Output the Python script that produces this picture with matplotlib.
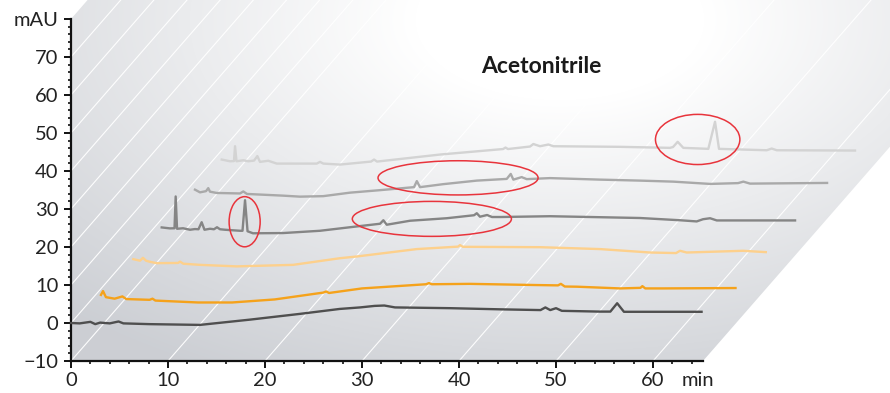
import numpy as np
import matplotlib
matplotlib.use('Agg')
import matplotlib.pyplot as plt
from matplotlib.patches import Polygon, Ellipse
from matplotlib.ticker import MultipleLocator, FixedLocator

plt.rcParams['font.family'] = ['Lato', 'DejaVu Sans']

# ---------------- data (apparent retention time [min], apparent signal [mAU]) -------------
run1_t = [0, 0.9, 2.0, 2.5, 3.0, 4.0, 4.9, 5.4, 8.1, 13.3, 18.5, 23.6, 27.7, 29.8, 31.3, 32.3,
          33.4, 39.1, 44.2, 48.4, 48.9, 49.4, 50.0, 50.6, 54.5, 55.6, 56.3, 57.0, 59.7, 65.0]
run1_mau = [0, -0.1, 0.3, -0.3, 0.1, -0.1, 0.4, -0.1, -0.3, -0.5, 0.9, 2.4, 3.7, 4.1, 4.5, 4.6,
            4.1, 3.9, 3.6, 3.4, 4.1, 3.4, 3.9, 3.2, 3.0, 3.0, 5.2, 2.95, 2.95, 2.95]

run2_t = [3.09, 3.3, 3.6, 4.5, 5.3, 5.7, 8.1, 8.4, 8.7, 13.1, 16.6, 21.0, 26.0, 26.3, 26.6,
          30.0, 36.6, 36.9, 37.2, 41.1, 47.7, 50.2, 50.5, 50.9, 52.2, 56.6, 58.7, 58.9, 59.2,
          61.0, 68.5]
run2_mau = [7.4, 8.4, 6.8, 6.4, 7.0, 6.3, 6.1, 6.4, 5.9, 5.4, 5.4, 6.2, 8.0, 8.3, 7.9,
            9.1, 10.2, 10.5, 10.2, 10.3, 10.0, 9.9, 10.3, 9.6, 9.55, 9.1, 9.25, 9.7, 9.1,
            9.1, 9.2]

run3_t = [6.42, 7.11, 7.42, 7.73, 8.14, 8.84, 11.03, 11.24, 11.58, 13.3, 17.08, 22.89, 27.73,
          29.45, 35.64, 39.9, 40.1, 40.4, 48.35, 54.54, 59.69, 62.37, 62.78, 63.47, 69.28, 71.62]
run3_mau = [16.8, 16.4, 17.15, 16.4, 16.1, 15.75, 15.8, 16.15, 15.6, 15.3, 14.9, 15.3, 17.05,
            17.5, 19.45, 20.1, 20.5, 20.05, 19.95, 19.45, 18.55, 18.4, 19.0, 18.55, 19.0, 18.65]

run4_t = [9.35, 10.2, 10.67, 10.79, 10.93, 11.55, 12.27, 12.78, 13.14, 13.47, 13.76, 14.33,
          14.74, 15.05, 15.36, 15.88, 17.42, 17.68, 17.94, 18.2, 18.76, 21.86, 25.67, 28.76,
          31.86, 32.2, 32.55, 34.95, 38.73, 41.55, 41.83, 42.16, 42.58, 42.89, 43.4, 44.23,
          49.38, 54.54, 58.66, 62.78, 64.5, 65.15, 65.88, 66.57, 74.64]
run4_mau = [25.15, 24.9, 24.93, 33.3, 24.8, 24.93, 24.54, 24.72, 24.67, 26.52, 24.54, 24.8,
            24.67, 25.2, 24.67, 24.54, 24.27, 24.27, 32.32, 24.14, 23.61, 23.67, 24.27, 25.2,
            26.12, 27.04, 25.86, 26.91, 27.57, 28.36, 28.89, 27.97, 28.23, 28.42, 27.89, 27.89,
            28.1, 27.84, 27.63, 27.04, 26.73, 27.31, 27.57, 26.99, 26.99]

run5_t = [12.78, 13.3, 13.92, 14.15, 14.33, 15.02, 17.42, 17.76, 18.14, 21.89, 23.61, 26.0,
          28.76, 31.86, 35.36, 35.65, 35.98, 38.38, 41.83, 44.92, 45.33, 45.6, 46.46, 46.98,
          49.38, 54.54, 58.66, 62.09, 65.88, 68.76, 69.31, 70.0, 77.94]
run5_mau = [35.09, 34.38, 34.7, 35.49, 34.56, 34.22, 34.09, 34.62, 33.96, 33.51, 33.25, 33.38,
            34.3, 34.96, 35.75, 37.34, 35.75, 36.54, 37.47, 37.92, 39.23, 37.73, 38.39, 37.86,
            38.13, 37.73, 37.47, 37.2, 36.6, 36.81, 37.2, 36.68, 36.86]

run6_t = [15.54, 16.39, 16.8, 16.91, 17.06, 17.76, 18.28, 18.87, 19.21, 19.48, 20.34, 21.21,
          25.33, 25.67, 26.01, 27.73, 30.93, 31.24, 31.55, 38.04, 44.54, 44.79, 45.05, 47.32,
          47.66, 48.35, 49.21, 49.72, 56.6, 61.75, 62.06, 62.54, 63.12, 65.7, 66.39, 66.8,
          71.72, 72.23, 72.75, 80.82]
run6_mau = [43.01, 42.56, 42.61, 46.52, 42.56, 42.82, 42.56, 42.74, 43.93, 42.4, 42.69, 41.95,
            41.95, 42.4, 41.95, 41.69, 42.48, 43.01, 42.48, 44.33, 45.78, 46.17, 45.78, 46.44,
            47.1, 46.52, 46.97, 46.52, 46.36, 46.09, 46.31, 47.68, 46.09, 45.83, 52.96, 45.83,
            45.46, 45.91, 45.46, 45.38]

run_colors = ['#4f4f4f', '#f5a21b', '#fdd08c', '#858585', '#a9a9a9', '#d3d3d3']

# highlighted regions (centre t, centre mAU, width min, height mAU)
mark_t = [17.9, 39.9, 37.2, 64.6]
mark_mau = [26.65, 38.2, 27.4, 48.3]
mark_w = [3.2, 16.5, 16.4, 8.7]
mark_h = [13.2, 9.0, 9.2, 13.2]

title = 'Acetonitrile'
x_major = [0, 10, 20, 30, 40, 50, 60]
y_major = [-10, 0, 10, 20, 30, 40, 50, 60, 70, 80]
y_labels = ['\u221210', '0', '10', '20', '30', '40', '50', '60', '70', 'mAU']

# ---------------- layout ----------------
W, H = 890, 393
AX_L, AX_R, AX_B, AX_T = 71, 703, 361, 19
XMIN, XMAX, YMIN, YMAX = 0, 65.15, -10, 80
SLOPE = 1.146  # depth direction in pixels (dy per dx)

def px(t):
    return AX_L + (t - XMIN) / (XMAX - XMIN) * (AX_R - AX_L)

def py(v):
    return AX_B - (v - YMIN) / (YMAX - YMIN) * (AX_B - AX_T)

fig = plt.figure(figsize=(W / 100, H / 100), dpi=100)
fig.patch.set_facecolor('white')

# background panel (pseudo-3D wall + floor) in pixel space
bg = fig.add_axes([0, 0, 1, 1], zorder=0)
bg.set_xlim(0, W)
bg.set_ylim(H, 0)
bg.axis('off')

yy, xx = np.mgrid[0:H, 0:W] + 0.5
d = np.sqrt(((xx - 560) / 1.8) ** 2 + (yy - 20) ** 2)
a = np.clip((d - 80) / 320, 0, 1)
dark = np.array([0.80, 0.81, 0.83])
img = 1 - a[..., None] * (1 - dark[None, None, :])
K = 500
panel = Polygon([(AX_L, AX_B), (AX_R, AX_B), (AX_R + K, AX_B - SLOPE * K),
                 (AX_L + K, AX_T - SLOPE * K), (AX_L, AX_T)], closed=True,
                transform=bg.transData, facecolor='none', edgecolor='none')
bg.add_patch(panel)
im = bg.imshow(img, extent=(0, W, H, 0), origin='upper', interpolation='bilinear', zorder=0)
im.set_clip_path(panel)

# depth grid lines: floor lines from x ticks, wall lines from y ticks
for t in x_major:
    x0, y0 = px(t), AX_B
    bg.plot([x0, x0 + K], [y0, y0 - SLOPE * K], color='white', lw=0.8, alpha=0.95, zorder=1)
for v in y_major[1:-1]:
    x0, y0 = AX_L, py(v)
    bg.plot([x0, x0 + K], [y0, y0 - SLOPE * K], color='white', lw=0.8, alpha=0.95, zorder=1)
bg.set_xlim(0, W)
bg.set_ylim(H, 0)

# ---------------- main axes ----------------
ax = fig.add_axes([AX_L / W, (H - AX_B) / H, (AX_R - AX_L) / W, (AX_B - AX_T) / H], zorder=1)
ax.patch.set_alpha(0)
ax.set_xlim(XMIN, XMAX)
ax.set_ylim(YMIN, YMAX)

runs = [(run1_t, run1_mau), (run2_t, run2_mau), (run3_t, run3_mau),
        (run4_t, run4_mau), (run5_t, run5_mau), (run6_t, run6_mau)]
for i in range(len(runs) - 1, -1, -1):
    t, m = runs[i]
    ax.plot(t, m, color=run_colors[i], lw=1.7, clip_on=False, zorder=3 + (6 - i) * 0.01,
            solid_joinstyle='round')

for ct, cm, w, h in zip(mark_t, mark_mau, mark_w, mark_h):
    e = Ellipse((ct, cm), w, h, facecolor='none', edgecolor='#e8343c', lw=1.1,
                clip_on=False, zorder=5)
    ax.add_patch(e)

ax.text(48.45, 67.6, title, ha='center', va='center', fontsize=16.5, fontweight='bold',
        color='#1a1a1a')

for s in ['top', 'right']:
    ax.spines[s].set_visible(False)
for s in ['left', 'bottom']:
    ax.spines[s].set_linewidth(1.6)
    ax.spines[s].set_color('#111111')

ax.xaxis.set_major_locator(FixedLocator(x_major))
ax.xaxis.set_minor_locator(MultipleLocator(2))
ax.yaxis.set_major_locator(FixedLocator(y_major))
ax.yaxis.set_minor_locator(MultipleLocator(2))
ax.set_yticklabels(y_labels)
ax.tick_params(axis='both', which='major', direction='out', length=5, width=1.4,
               colors='#111111', labelsize=14.5, labelcolor='#222222')
ax.tick_params(axis='both', which='minor', direction='out', length=2.5, width=1.2,
               colors='#111111')
ax.tick_params(axis='x', which='major', pad=3)
ax.tick_params(axis='y', which='major', pad=4)

ax.annotate('min', xy=(64.6, YMIN), xytext=(0, -8), textcoords='offset points',
            ha='center', va='top', fontsize=14.5, color='#222222', annotation_clip=False)

fig.savefig('out.png', dpi=100, facecolor='white')
